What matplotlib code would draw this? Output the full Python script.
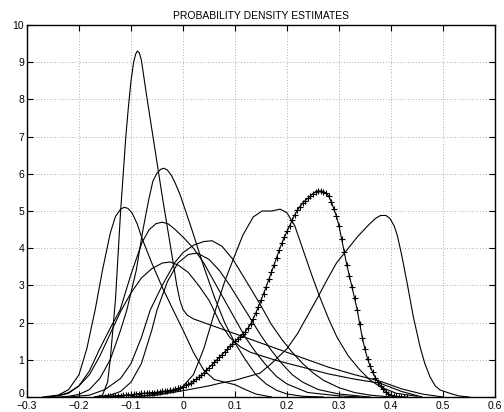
import numpy as np
import matplotlib
matplotlib.use('Agg')
import matplotlib.pyplot as plt
import matplotlib.transforms as mtransforms

# density estimates (x, y pairs)
a_x = [-0.17, -0.155, -0.145, -0.14, -0.135, -0.13, -0.125, -0.12, -0.115, -0.11, -0.105, -0.10,
       -0.095, -0.091, -0.088, -0.084, -0.08, -0.07, -0.06, -0.05, -0.04, -0.03, -0.02, -0.012,
       -0.006, 0.0, 0.008, 0.02, 0.04, 0.08, 0.13, 0.18, 0.23, 0.28, 0.33, 0.38, 0.42, 0.46, 0.50]
a_y = [0.0, 0.05, 0.4, 1.0, 1.8, 2.6, 3.8, 5.0, 6.0, 7.0, 7.8, 8.5,
       9.0, 9.22, 9.3, 9.25, 9.05, 8.1, 7.2, 6.3, 5.4, 4.55, 3.7, 3.0,
       2.6, 2.35, 2.2, 2.1, 2.0, 1.8, 1.55, 1.3, 1.05, 0.8, 0.6, 0.42, 0.22, 0.08, 0.0]

b_x = [-0.24, -0.22, -0.20, -0.18, -0.16, -0.14, -0.12, -0.108, -0.09, -0.077, -0.066, -0.058,
       -0.05, -0.043, -0.037, -0.03, -0.022, -0.015, -0.006, 0.005, 0.017, 0.04, 0.06, 0.08, 0.10,
       0.12, 0.14, 0.16, 0.18, 0.20, 0.23, 0.27]
b_y = [0.0, 0.02, 0.07, 0.2, 0.5, 1.0, 1.8, 2.34, 3.4, 4.5, 5.3, 5.8,
       6.02, 6.12, 6.15, 6.1, 5.95, 5.75, 5.45, 5.0, 4.5, 3.5, 2.7, 2.0, 1.45,
       1.0, 0.6, 0.35, 0.18, 0.08, 0.02, 0.0]

c_x = [-0.27, -0.24, -0.22, -0.20, -0.185, -0.169, -0.155, -0.14, -0.13, -0.12, -0.113, -0.106,
       -0.098, -0.088, -0.079, -0.06, -0.04, -0.019, 0.0, 0.02, 0.04, 0.06, 0.08, 0.10, 0.12,
       0.14, 0.17]
c_y = [0.0, 0.05, 0.2, 0.6, 1.3, 2.34, 3.4, 4.4, 4.85, 5.05, 5.1, 5.07,
       4.95, 4.65, 4.27, 3.6, 2.95, 2.34, 1.8, 1.2, 0.72, 0.47, 0.4, 0.33, 0.2,
       0.08, 0.0]

d_x = [-0.26, -0.24, -0.22, -0.20, -0.18, -0.16, -0.14, -0.121, -0.10, -0.079, -0.065, -0.052,
       -0.04, -0.028, -0.015, 0.0, 0.02, 0.04, 0.06, 0.08, 0.10, 0.12, 0.14, 0.16, 0.18, 0.20,
       0.24, 0.30, 0.34]
d_y = [0.0, 0.04, 0.12, 0.3, 0.7, 1.3, 1.85, 2.34, 3.3, 4.15, 4.5, 4.66,
       4.7, 4.65, 4.5, 4.3, 4.0, 3.6, 3.1, 2.6, 2.1, 1.6, 1.2, 0.85, 0.55, 0.35,
       0.12, 0.03, 0.0]

e_x = [-0.22, -0.18, -0.15, -0.12, -0.10, -0.08, -0.063, -0.04, -0.015, 0.0, 0.02, 0.04,
       0.056, 0.075, 0.096, 0.12, 0.148, 0.17, 0.19, 0.21, 0.23, 0.25, 0.27, 0.30, 0.33, 0.36, 0.40]
e_y = [0.0, 0.05, 0.2, 0.5, 0.9, 1.6, 2.34, 3.0, 3.63, 3.88, 4.08, 4.18,
       4.2, 4.05, 3.7, 3.15, 2.5, 1.95, 1.55, 1.2, 0.9, 0.65, 0.45, 0.25, 0.12, 0.05, 0.0]

f_x = [-0.17, -0.14, -0.12, -0.10, -0.08, -0.06, -0.05, -0.03, -0.01, 0.01, 0.027, 0.05,
       0.07, 0.09, 0.11, 0.13, 0.15, 0.17, 0.19, 0.21, 0.23, 0.26, 0.30, 0.36]
f_y = [0.0, 0.05, 0.15, 0.4, 0.9, 1.8, 2.34, 3.1, 3.6, 3.83, 3.87, 3.7,
       3.4, 3.0, 2.55, 2.1, 1.65, 1.25, 0.9, 0.6, 0.4, 0.2, 0.08, 0.0]

g_x = [-0.26, -0.24, -0.22, -0.20, -0.18, -0.16, -0.14, -0.12, -0.10, -0.08, -0.06, -0.04,
       -0.025, -0.01, 0.01, 0.03, 0.05, 0.071, 0.09, 0.11, 0.13, 0.18, 0.23, 0.28, 0.33, 0.379,
       0.42, 0.46]
g_y = [0.0, 0.03, 0.1, 0.3, 0.6, 1.1, 1.7, 2.3, 2.8, 3.2, 3.45, 3.6,
       3.63, 3.55, 3.35, 3.0, 2.6, 2.0, 1.6, 1.35, 1.2, 0.98, 0.8, 0.62, 0.48, 0.37,
       0.15, 0.0]

h_x = [-0.10, -0.06, -0.03, -0.006, 0.02, 0.04, 0.058, 0.08, 0.096, 0.115, 0.135, 0.152,
       0.17, 0.187, 0.20, 0.215, 0.231, 0.247, 0.263, 0.28, 0.296, 0.318, 0.34, 0.36, 0.38,
       0.41, 0.45]
h_y = [0.0, 0.06, 0.12, 0.2, 0.6, 1.3, 2.15, 3.1, 3.68, 4.35, 4.84, 5.0,
       5.0, 5.05, 4.95, 4.6, 3.95, 3.3, 2.69, 2.1, 1.61, 1.1, 0.73, 0.45, 0.27,
       0.1, 0.02]

j_x = [-0.10, -0.05, 0.0, 0.05, 0.071, 0.10, 0.125, 0.148, 0.17, 0.20, 0.22, 0.238,
       0.258, 0.277, 0.295, 0.315, 0.335, 0.355, 0.37, 0.38, 0.39, 0.398, 0.406, 0.412, 0.42,
       0.431, 0.443, 0.456, 0.465, 0.475, 0.485, 0.494, 0.513, 0.53, 0.55]
j_y = [0.0, 0.05, 0.17, 0.3, 0.37, 0.45, 0.55, 0.64, 0.9, 1.3, 1.7, 2.15,
       2.65, 3.15, 3.6, 3.95, 4.3, 4.6, 4.8, 4.88, 4.88, 4.8, 4.6, 4.35, 3.85,
       3.06, 2.15, 1.34, 0.9, 0.54, 0.3, 0.19, 0.1, 0.03, 0.0]

# the marked estimate, read at each marker
p_start, p_stop = -0.155, 0.43
p_y = [0.01, 0.01, 0.02, 0.02, 0.03, 0.03, 0.04, 0.04, 0.05, 0.05,
       0.06, 0.06, 0.07, 0.08, 0.09, 0.10, 0.10, 0.11, 0.11, 0.12,
       0.12, 0.13, 0.14, 0.15, 0.16, 0.17, 0.18, 0.19, 0.21, 0.23,
       0.25, 0.28, 0.31, 0.34, 0.38, 0.42, 0.48, 0.53, 0.59, 0.65,
       0.72, 0.79, 0.86, 0.93, 1.00, 1.07, 1.14, 1.21, 1.28, 1.36,
       1.43, 1.50, 1.56, 1.62, 1.69, 1.76, 1.85, 1.96, 2.10, 2.26,
       2.43, 2.60, 2.78, 2.97, 3.16, 3.35, 3.55, 3.75, 3.95, 4.13,
       4.30, 4.45, 4.60, 4.76, 4.90, 5.02, 5.12, 5.21, 5.28, 5.34,
       5.41, 5.47, 5.52, 5.54, 5.54, 5.52, 5.48, 5.40, 5.25, 5.06,
       4.86, 4.60, 4.25, 3.90, 3.55, 3.25, 2.95, 2.65, 2.34, 1.95,
       1.58, 1.28, 1.02, 0.82, 0.66, 0.52, 0.40, 0.30, 0.21, 0.14,
       0.09, 0.05, 0.03, 0.02, 0.01, 0.01, 0.00, 0.00]

curves = [(a_x, a_y), (b_x, b_y), (c_x, c_y), (d_x, d_y), (e_x, e_y),
          (f_x, f_y), (g_x, g_y), (h_x, h_y), (j_x, j_y)]

plt.rcParams['font.family'] = ['Liberation Sans', 'DejaVu Sans']
plt.rcParams['font.size'] = 7.5

fig = plt.figure(figsize=(5.04, 4.12), dpi=100)
ax = fig.add_axes([0.0536, 0.0364, 0.9286, 0.9029])

for cx, cy in curves:
    ax.plot(cx, cy, color='black', linewidth=0.8, solid_joinstyle='round')

p_x = np.linspace(p_start, p_stop, len(p_y))
ax.plot(p_x, p_y, color='black', linewidth=0.8, marker='+',
        markersize=5, markeredgewidth=0.8)

ax.set_xlim(-0.3, 0.6)
ax.set_ylim(0, 10)
ax.set_xticks(np.arange(-0.3, 0.61, 0.1))
ax.set_xticklabels(['\u22120.3', '\u22120.2', '\u22120.1', '0', '0.1', '0.2',
                    '0.3', '0.4', '0.5', '0.6'])
ax.set_yticks(range(0, 11))
ax.tick_params(direction='in', length=4, width=0.8, top=True, right=True,
               labelsize=7.5, pad=2)
ax.tick_params(axis='x', pad=3)
ax.grid(True, linestyle=(0, (1, 3)), color='black', linewidth=0.5, alpha=0.6)
for s in ax.spines.values():
    s.set_linewidth(1.0)
ax.set_title('PROBABILITY DENSITY ESTIMATES', fontsize=7.5, pad=4)

# lift the y "0" a touch so it sits above the "-0.3" like the reference
fig.canvas.draw()
zero_lbl = ax.get_yticklabels()[0]
zero_lbl.set_transform(zero_lbl.get_transform()
                       + mtransforms.ScaledTranslation(0, 3 / 72, fig.dpi_scale_trans))

fig.savefig('out.png', dpi=100)
